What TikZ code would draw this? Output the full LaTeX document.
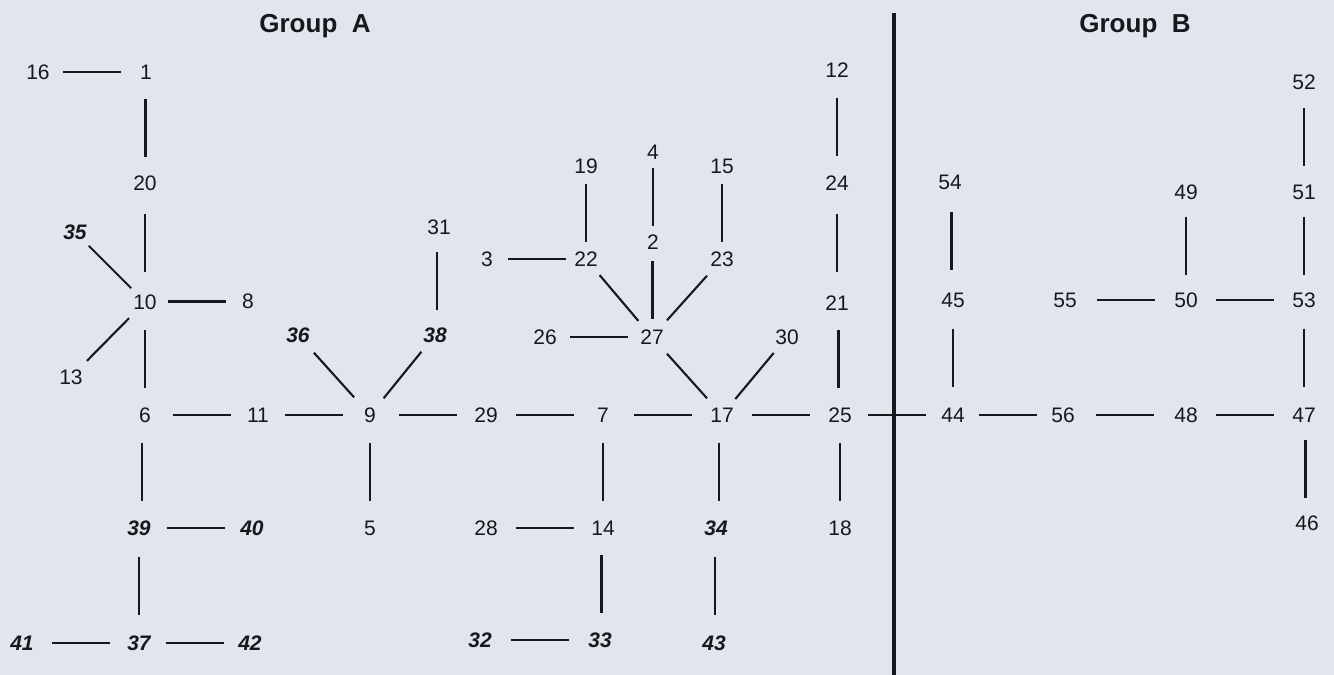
\documentclass[tikz,border=0pt]{standalone}
\usepackage{fontspec}
\setmainfont{Liberation Sans}
\usetikzlibrary{calc}
\definecolor{bgc}{RGB}{225,229,237}
\definecolor{ink}{RGB}{24,24,28}
\tikzset{
  lab/.style={inner sep=0pt, text=ink, font=\fontsize{21}{21}\selectfont},
  bi/.style={lab, font=\fontsize{21}{21}\selectfont\bfseries\itshape},
  grp/.style={inner sep=0pt, text=ink, anchor=base, font=\fontsize{26}{26}\selectfont\bfseries},
  conn/.style={draw=ink, line width=2.1pt,
    to path={($(\tikztostart)!0.5!(\tikztotarget)!30pt!(\tikztostart)$) -- ($(\tikztostart)!0.5!(\tikztotarget)!30pt!(\tikztotarget)$)}},
  vconn/.style={draw=ink, line width=2.1pt,
    to path={($(\tikztostart)!0.5!(\tikztotarget)+(0,-29)$) -- ($(\tikztostart)!0.5!(\tikztotarget)+(0,29)$)}},
  hconn/.style={draw=ink, line width=2.1pt,
    to path={($(\tikztostart)!0.5!(\tikztotarget)+(-29,0)$) -- ($(\tikztostart)!0.5!(\tikztotarget)+(29,0)$)}},
  divider/.style={draw=ink, line width=3.8pt}
}
\begin{document}
\begin{tikzpicture}[x=1pt,y=-1pt]
\useasboundingbox (0,0) rectangle (1334,675);
\fill[bgc] (0,0) rectangle (1334,675);
\node[grp] (gA) at (315,32) {Group~~A};
\node[grp] (gB) at (1135,32) {Group~~B};
% Group A nodes
\node[lab] (n16) at (38,72) {16};
\node[lab] (n1) at (146,72) {1};
\node[lab] (n20) at (145,183) {20};
\node[lab] (n10) at (145,302) {10};
\node[lab] (n8) at (248,301) {8};
\node[bi] (n35) at (75,232) {35};
\node[lab] (n13) at (71,377) {13};
\node[lab] (n6) at (145,415) {6};
\node[lab] (n11) at (258,415) {11};
\node[lab] (n9) at (370,415) {9};
\node[bi] (n36) at (298,335) {36};
\node[bi] (n38) at (435,335) {38};
\node[lab] (n31) at (439,227) {31};
\node[lab] (n5) at (370,528) {5};
\node[bi] (n39) at (139,528) {39};
\node[bi] (n40) at (252,528) {40};
\node[bi] (n37) at (139,643) {37};
\node[bi] (n41) at (22,643) {41};
\node[bi] (n42) at (250,643) {42};
\node[lab] (n29) at (486,415) {29};
\node[lab] (n7) at (603,415) {7};
\node[lab] (n17) at (722,415) {17};
\node[lab] (n25) at (840,415) {25};
\node[lab] (n14) at (603,528) {14};
\node[lab] (n28) at (486,528) {28};
\node[bi] (n33) at (600,640) {33};
\node[bi] (n32) at (480,640) {32};
\node[bi] (n34) at (716,528) {34};
\node[bi] (n43) at (714,643) {43};
\node[lab] (n18) at (840,528) {18};
\node[lab] (n27) at (652,337) {27};
\node[lab] (n26) at (545,337) {26};
\node[lab] (n30) at (787,337) {30};
\node[lab] (n22) at (586,259) {22};
\node[lab] (n3) at (487,259) {3};
\node[lab] (n19) at (586,166) {19};
\node[lab] (n23) at (722,259) {23};
\node[lab] (n15) at (722,166) {15};
\node[lab] (n2) at (653,242) {2};
\node[lab] (n4) at (653,152) {4};
\node[lab] (n12) at (837,70) {12};
\node[lab] (n24) at (837,183) {24};
\node[lab] (n21) at (837,303) {21};
% Group B nodes
\node[lab] (n44) at (953,415) {44};
\node[lab] (n56) at (1063,415) {56};
\node[lab] (n48) at (1186,415) {48};
\node[lab] (n47) at (1304,415) {47};
\node[lab] (n46) at (1307,523) {46};
\node[lab] (n54) at (950,182) {54};
\node[lab] (n45) at (953,300) {45};
\node[lab] (n55) at (1065,300) {55};
\node[lab] (n50) at (1186,300) {50};
\node[lab] (n53) at (1304,300) {53};
\node[lab] (n49) at (1186,192) {49};
\node[lab] (n51) at (1304,192) {51};
\node[lab] (n52) at (1304,82) {52};
% divider
\coordinate (dtop) at (894,13);
\coordinate (dbot) at (894,675);
\draw[divider] (dtop) -- (dbot);
% horizontal connectors
\foreach \a/\b in {16/1,10/8,6/11,11/9,39/40,41/37,37/42,9/29,29/7,7/17,17/25,25/44,
  28/14,32/33,26/27,3/22,44/56,56/48,48/47,55/50,50/53}
  \draw[hconn] (n\a) to (n\b);
% vertical connectors
\foreach \a/\b in {1/20,20/10,10/6,31/38,9/5,6/39,39/37,7/14,14/33,17/34,34/43,25/18,
  2/27,4/2,19/22,15/23,12/24,24/21,21/25,47/46,53/47,45/44,54/45,49/50,51/53,52/51}
  \draw[vconn] (n\a) to (n\b);
% diagonal connectors
\foreach \a/\b in {35/10,13/10,36/9,38/9,27/17,30/17,22/27,23/27}
  \draw[conn] (n\a) to (n\b);
\end{tikzpicture}
\end{document}
